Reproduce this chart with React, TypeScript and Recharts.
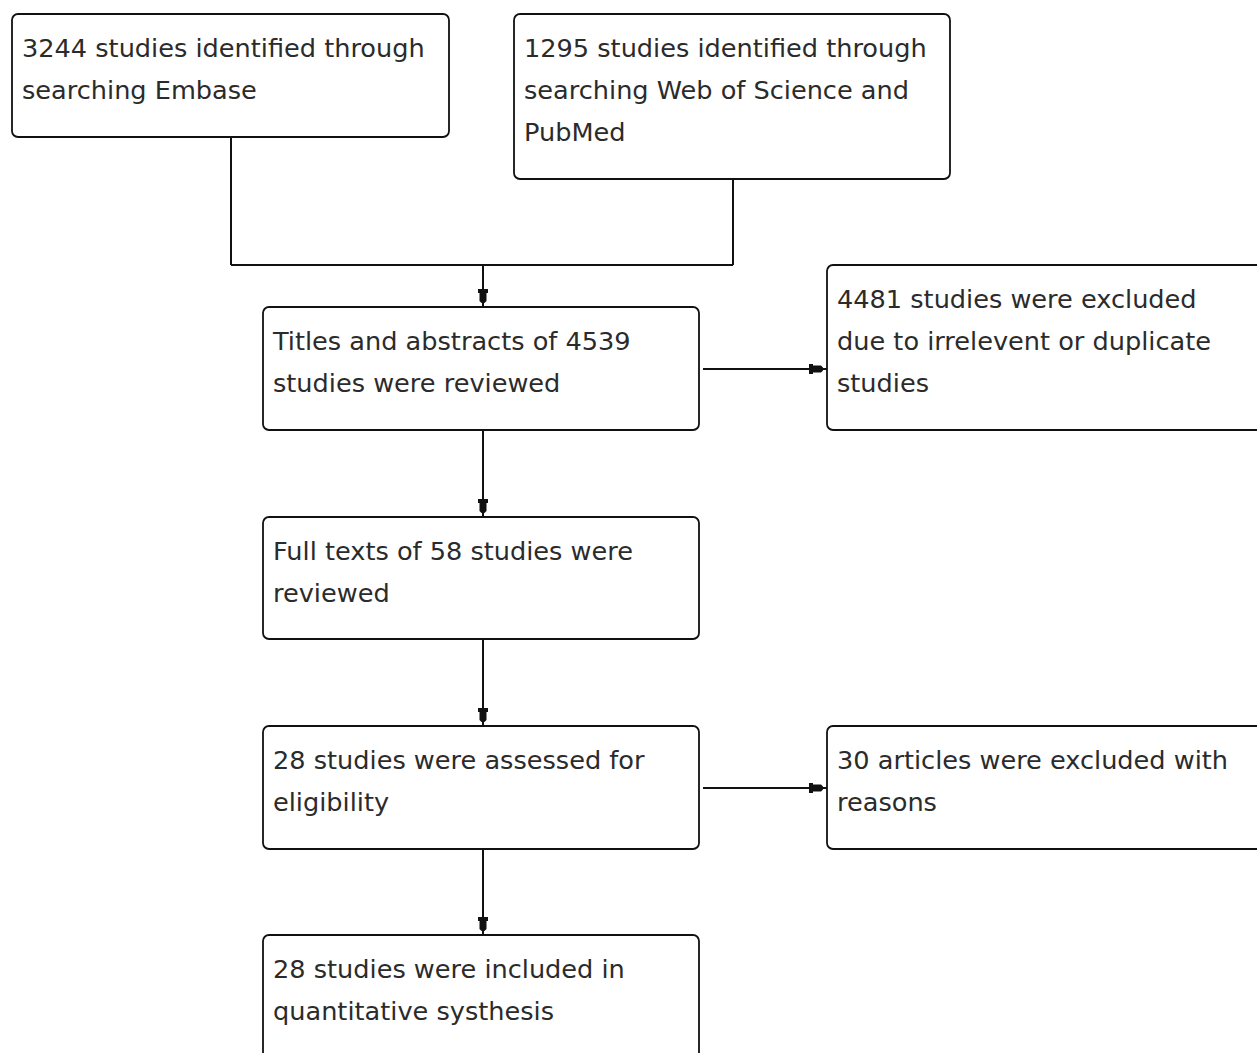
import React from 'react';
import { ComposedChart, XAxis, YAxis, ReferenceArea, ReferenceLine } from 'recharts';

const W = 1257;
const H = 1053;

// Flow boxes (diagram units = pixels of the reference)
const boxLines: string[][] = [
  ['3244 studies identified through', 'searching Embase'],
  ['1295 studies identified through', 'searching Web of Science and', 'PubMed'],
  ['Titles and abstracts of 4539', 'studies were reviewed'],
  ['4481 studies were excluded', 'due to irrelevent or duplicate', 'studies'],
  ['Full texts of 58 studies were', 'reviewed'],
  ['28 studies were assessed for', 'eligibility'],
  ['30 articles were excluded with', 'reasons'],
  ['28 studies were included in', 'quantitative systhesis'],
];
const boxX1 = [12, 514, 263, 827, 263, 263, 827, 263];
const boxX2 = [449, 950, 699, 1264, 699, 699, 1264, 699];
const boxY1 = [14, 14, 307, 265, 517, 726, 726, 935];
const boxY2 = [137, 179, 430, 430, 639, 849, 849, 1070];

// Connectors: [x1, y1, x2, y2, hasArrow]
const segX1 = [231, 733, 231, 483, 703, 483, 483, 703, 483];
const segY1 = [137, 179, 265, 265, 369, 430, 639, 788, 849];
const segX2 = [231, 733, 733, 483, 827, 483, 483, 827, 483];
const segY2 = [265, 265, 265, 307, 369, 517, 726, 788, 935];
const segArrow = [false, false, false, true, true, true, true, true, true];

const FONT = '"DejaVu Sans", Verdana, sans-serif';

function BoxShape(props: any) {
  const { x, y, width, height, lines } = props;
  return (
    <g>
      <rect x={x} y={y} width={width} height={height} rx={6} ry={6} fill="#ffffff" stroke="#111" strokeWidth={1.8} />
      {lines.map((t: string, i: number) => (
        <text key={i} x={x + 10} y={y + 43 + i * 42} fontFamily={FONT} fontSize={25.6} fill="#2b2b2b">
          {t}
        </text>
      ))}
    </g>
  );
}

function SegShape(props: any) {
  const { x1, y1, x2, y2, arrow } = props;
  const dx = x2 - x1;
  const dy = y2 - y1;
  const len = Math.sqrt(dx * dx + dy * dy) || 1;
  const ux = dx / len;
  const uy = dy / len;
  const nx = -uy;
  const ny = ux;
  const tipOff = 4;
  const tx = x2 - ux * tipOff;
  const ty = y2 - uy * tipOff;
  const pt = (a: number, b: number) => `${tx + ux * a + nx * b},${ty + uy * a + ny * b}`;
  const head = [pt(-14, -5), pt(-14, 5), pt(-10, 5), pt(-10, 3.5), pt(-2, 3.5), pt(0, 1.5), pt(0, -1.5), pt(-2, -3.5), pt(-10, -3.5), pt(-10, -5)].join(' ');
  return (
    <g>
      <line x1={x1} y1={y1} x2={x2} y2={y2} stroke="#111" strokeWidth={2} />
      {arrow && <polygon points={head} fill="#111" />}
    </g>
  );
}

export default function App() {
  return (
    <div style={{ position: 'absolute', left: 0, top: 0, background: '#fff' }}>
      <ComposedChart width={W} height={H} margin={{ top: 0, right: 0, bottom: 0, left: 0 }}>
        <XAxis type="number" dataKey="x" domain={[0, W]} hide allowDataOverflow />
        <YAxis type="number" dataKey="y" domain={[0, H]} reversed hide allowDataOverflow />
        {segX1.map((_, i) => (
          <ReferenceLine
            key={'s' + i}
            segment={[
              { x: segX1[i], y: segY1[i] },
              { x: segX2[i], y: segY2[i] },
            ]}
            ifOverflow="visible"
            shape={(p: any) => <SegShape {...p} arrow={segArrow[i]} />}
          />
        ))}
        {boxLines.map((lines, i) => (
          <ReferenceArea
            key={'b' + i}
            x1={boxX1[i]}
            x2={boxX2[i]}
            y1={boxY1[i]}
            y2={boxY2[i]}
            ifOverflow="hidden"
            shape={(p: any) => <BoxShape {...p} lines={lines} />}
          />
        ))}
      </ComposedChart>
    </div>
  );
}
